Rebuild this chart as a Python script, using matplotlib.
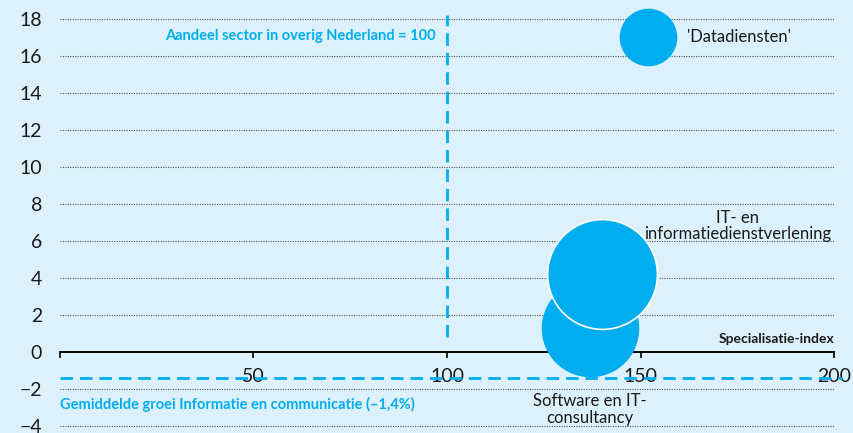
import matplotlib.pyplot as plt

# data
sectoren = ["'Datadiensten'", "IT- en\ninformatiedienstverlening", "Software en IT-\nconsultancy"]
specialisatie = [152, 140, 137]      # specialisatie-index
groei = [17.0, 4.2, 1.3]             # groei (%)
omvang = [10.0, 38.6, 29.4]          # relatieve omvang (bubbelgrootte)
gem_groei = -1.4
referentie = 100

x_ticks = [0, 50, 100, 150, 200]
x_labels = ['', '50', '100', '150', '200']
y_ticks = [-4, -2, 0, 2, 4, 6, 8, 10, 12, 14, 16, 18]

bg = '#dcf1fc'
cyan = '#00aeef'
ink = '#1a1a1a'

plt.rcParams['font.family'] = ['Lato', 'DejaVu Sans']

fig = plt.figure(figsize=(8.54, 4.33), dpi=100, facecolor=bg)
ax = fig.add_axes([60 / 854, 0.0035, 774 / 854, 0.974], facecolor=bg)
ax.set_xlim(0, 200)
ax.set_ylim(-4.3, 18.5)

# dotted grid
for y in y_ticks:
    if y == 0:
        continue
    ax.axhline(y, color='#555555', lw=0.8, ls=(0, (1, 1.2)), zorder=1)

# bottom spine at y = 0
for s in ['top', 'right', 'left']:
    ax.spines[s].set_visible(False)
ax.spines['bottom'].set_position(('data', 0))
ax.spines['bottom'].set_linewidth(1.4)
ax.spines['bottom'].set_zorder(2)
ax.set_xticks(x_ticks)
ax.set_xticklabels(x_labels)
ax.set_yticks(y_ticks)
ax.tick_params(axis='x', direction='out', length=4.5, width=1.2, pad=7,
               labelsize=14, labelcolor=ink)
ax.tick_params(axis='y', length=0, pad=13, labelsize=14, labelcolor=ink)
for lbl in ax.get_xticklabels():
    lbl.set_zorder(5)

# reference lines
ax.plot([referentie, referentie], [0.8, 18.2], color=cyan, lw=2, ls=(0, (4.5, 2.5)),
        zorder=2, clip_on=False)
ax.plot([0, 202], [gem_groei, gem_groei], color=cyan, lw=2, ls=(0, (4.5, 2.5)),
        zorder=2, clip_on=False)

ax.text(97, 17.1, 'Aandeel sector in overig Nederland = 100', color=cyan,
        fontsize=10.5, fontweight='bold', ha='right', va='center')
ax.text(0, -2.85, 'Gemiddelde groei Informatie en communicatie (\u20131,4%)', color=cyan,
        fontsize=10.5, fontweight='bold', ha='left', va='center')
ax.text(200, 0.7, 'Specialisatie-index', color=ink, fontsize=10, fontweight='bold',
        ha='right', va='center')

# bubbles (draw order: software, IT, data)
k = 162
order = [2, 1, 0]
for i in order:
    edge = 'white' if i == 1 else cyan
    ax.scatter(specialisatie[i], groei[i], s=omvang[i] * k, color=cyan,
               edgecolor=edge, linewidth=1.2, zorder=3, clip_on=False)

ax.text(162, 17.05, sectoren[0], fontsize=12, color=ink, ha='left', va='center')
ax.text(175, 6.8, sectoren[1], fontsize=12, color=ink, ha='center', va='center',
        linespacing=1.05)
ax.text(137, -3.1, sectoren[2], fontsize=12, color=ink, ha='center', va='center',
        linespacing=1.05)

fig.savefig('out.png', dpi=100, facecolor=bg)
